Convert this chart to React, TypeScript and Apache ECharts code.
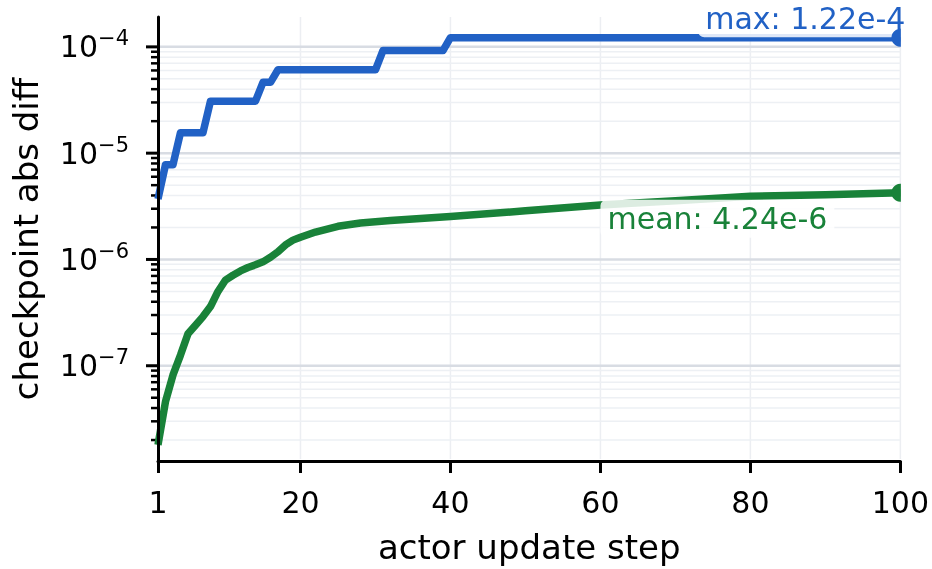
import React, { useEffect, useRef } from "react";
import * as echarts from "echarts";

// ---- data ----
const maxSteps = [1, 2, 3, 4, 7, 8, 14, 15, 16, 17, 30, 31, 39, 40, 100];
const maxValues = [3.7e-6, 7.8e-6, 7.8e-6, 1.56e-5, 1.56e-5, 3.08e-5, 3.08e-5, 4.64e-5, 4.64e-5, 6.09e-5, 6.09e-5, 9.23e-5, 9.23e-5, 1.22e-4, 1.22e-4];

const meanSteps = [1, 2, 3, 4, 5, 6, 7, 8, 9, 10, 11, 12, 13, 14, 15, 16, 17, 18, 19, 20, 22, 25, 28, 32, 40, 50, 60, 70, 80, 90, 100];
const meanValues = [
  1.8e-8, 4.6e-8, 8.2e-8, 1.26e-7, 2.0e-7, 2.4e-7, 2.9e-7, 3.6e-7, 5.0e-7, 6.4e-7,
  7.1e-7, 7.8e-7, 8.4e-7, 8.9e-7, 9.5e-7, 1.05e-6, 1.18e-6, 1.37e-6, 1.52e-6, 1.62e-6,
  1.81e-6, 2.05e-6, 2.2e-6, 2.32e-6, 2.53e-6, 2.87e-6, 3.25e-6, 3.56e-6, 3.93e-6, 4.07e-6, 4.24e-6,
];

const xTickValues = [1, 20, 40, 60, 80, 100];
const xGridValues = [20, 40, 60, 80, 100];
const yDecades = [1e-8, 1e-7, 1e-6, 1e-5, 1e-4];
const yMinorMultipliers = [2, 3, 4, 5, 6, 7, 8, 9];
const xMin = 1;
const xMax = 100;
const yMin = 1.27e-8;
const yMax = 1.91e-4;

const BLUE = "#2161c5";
const GREEN = "#198239";
const FONT = "DejaVu Sans";

export default function App() {
  const ref = useRef<HTMLDivElement>(null);

  useEffect(() => {
    document.body.style.margin = "0";
    if (!ref.current) return;
    const chart = echarts.init(ref.current, undefined, { renderer: "svg" });

    const yGrid: number[][] = [];
    yDecades.forEach((d) => {
      if (d >= yMin && d <= yMax) yGrid.push([xMin, d, 1]);
      yMinorMultipliers.forEach((m) => {
        const v = d * m;
        if (v >= yMin && v <= yMax) yGrid.push([xMin, v, 0]);
      });
    });

    const maxData = maxSteps.map((s, i) => [s, maxValues[i]]);
    const meanData = meanSteps.map((s, i) => [s, meanValues[i]]);
    const endPoints = [
      [maxSteps[maxSteps.length - 1], maxValues[maxValues.length - 1], 0],
      [meanSteps[meanSteps.length - 1], meanValues[meanValues.length - 1], 1],
    ];

    const labelBase = {
      show: true,
      fontFamily: FONT,
      fontSize: 30,
      lineHeight: 32,
      backgroundColor: "rgba(255,255,255,0.85)",
      padding: [3, 7, 3, 7],
      borderRadius: 6,
      align: "right",
      verticalAlign: "middle",
      distance: 0,
    };

    chart.setOption({
      animation: false,
      textStyle: { fontFamily: FONT },
      grid: { left: 158, right: 30, top: 17, bottom: 106 },
      xAxis: {
        type: "value",
        min: xMin,
        max: xMax,
        z: 3,
        name: "actor update step",
        nameLocation: "middle",
        nameGap: 69,
        nameTextStyle: { fontSize: 34, color: "#000", fontFamily: FONT },
        axisLine: { show: true, lineStyle: { color: "#000", width: 3 } },
        axisTick: { show: true, length: 12, lineStyle: { color: "#000", width: 3 }, customValues: xTickValues },
        axisLabel: { fontSize: 30, color: "#000", margin: 26, fontFamily: FONT, customValues: xTickValues },
        splitLine: { show: false },
      },
      yAxis: {
        type: "log",
        logBase: 10,
        min: yMin,
        max: yMax,
        z: 3,
        name: "checkpoint abs diff",
        nameLocation: "middle",
        nameRotate: 90,
        nameGap: 115,
        nameTextStyle: { fontSize: 34, color: "#000", fontFamily: FONT },
        axisLine: { show: true, lineStyle: { color: "#000", width: 3 } },
        axisTick: { show: false },
        splitLine: { show: false },
        axisLabel: {
          margin: 29,
          showMinLabel: false,
          showMaxLabel: false,
          formatter: (v: number) => {
            const l = Math.log10(v);
            const r = Math.round(l);
            if (Math.abs(l - r) > 1e-6) return "";
            return `{b|10}{s|\u2212${-r}}`;
          },
          rich: {
            b: { fontSize: 30, color: "#000", fontFamily: FONT },
            s: { fontSize: 21, color: "#000", fontFamily: FONT, padding: [0, 0, 17, 0] },
          },
        },
      },
      series: [
        {
          type: "custom",
          coordinateSystem: "cartesian2d",
          silent: true,
          clip: false,
          z: 1,
          data: xGridValues.map((v) => [v, yMax]),
          encode: { x: 0, y: 1 },
          renderItem: (params: any, api: any) => {
            const cs = params.coordSys;
            const x = api.coord([api.value(0), yMax])[0];
            return {
              type: "line",
              shape: { x1: x, y1: cs.y, x2: x, y2: cs.y + cs.height - 2 },
              style: { stroke: "#eceef2", lineWidth: 1.5 },
            };
          },
        },
        {
          type: "custom",
          coordinateSystem: "cartesian2d",
          silent: true,
          clip: false,
          z: 1,
          data: yGrid,
          encode: { x: 0, y: 1 },
          renderItem: (params: any, api: any) => {
            const cs = params.coordSys;
            const major = api.value(2) === 1;
            const y = api.coord([xMin, api.value(1)])[1];
            return {
              type: "group",
              children: [
                {
                  type: "line",
                  shape: { x1: cs.x + 2, y1: y, x2: cs.x + cs.width, y2: y },
                  style: { stroke: major ? "#d8dce3" : "#edf0f4", lineWidth: major ? 2.5 : 1.5 },
                },
                {
                  type: "line",
                  shape: { x1: cs.x - (major ? 12 : 7), y1: y, x2: cs.x, y2: y },
                  style: { stroke: "#000", lineWidth: major ? 3 : 2.5 },
                },
              ],
            };
          },
        },
        {
          type: "line",
          name: "max",
          data: maxData,
          showSymbol: false,
          z: 2,
          lineStyle: { color: BLUE, width: 7.5, join: "round", cap: "butt" },
          endLabel: {
            ...labelBase,
            color: BLUE,
            offset: [12, -19.5],
            formatter: (p: any) => `max: ${p.value[1].toExponential(2)}`,
          },
        },
        {
          type: "line",
          name: "mean",
          data: meanData,
          showSymbol: false,
          z: 2,
          lineStyle: { color: GREEN, width: 7.5, join: "round", cap: "butt" },
          endLabel: {
            ...labelBase,
            color: GREEN,
            offset: [-66, 26],
            formatter: (p: any) => `mean: ${p.value[1].toExponential(2)}`,
          },
        },
        {
          type: "custom",
          coordinateSystem: "cartesian2d",
          silent: true,
          clip: false,
          z: 2,
          data: endPoints,
          encode: { x: 0, y: 1 },
          renderItem: (params: any, api: any) => {
            const cs = params.coordSys;
            const p = api.coord([api.value(0), api.value(1)]);
            return {
              type: "group",
              z2: 50,
              clipPath: { type: "rect", shape: { x: cs.x, y: cs.y - 20, width: cs.width + 0.5, height: cs.height + 40 } },
              children: [
                {
                  type: "circle",
                  z2: 50,
                  shape: { cx: p[0], cy: p[1], r: 9 },
                  style: { fill: api.value(2) === 0 ? BLUE : GREEN },
                },
              ],
            };
          },
        },
      ],
    });

    return () => chart.dispose();
  }, []);

  return <div ref={ref} style={{ position: "fixed", left: 0, top: 0, width: 932, height: 569 }} />;
}
